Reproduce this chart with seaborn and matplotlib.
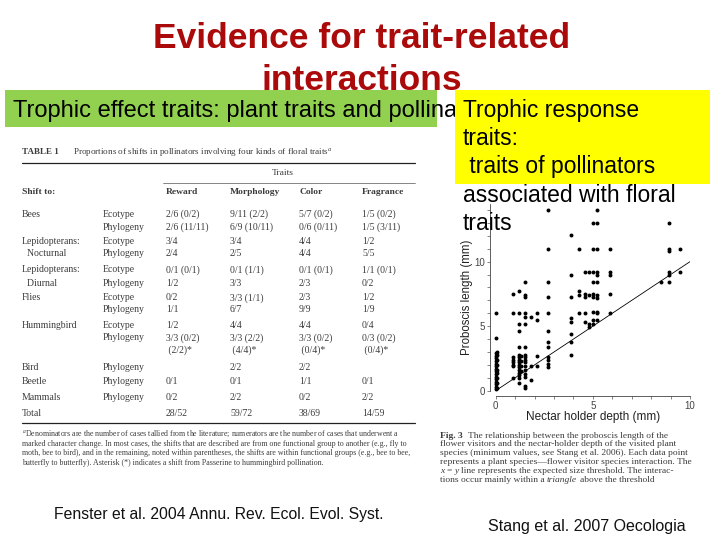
import pandas as pd
import seaborn as sns
import matplotlib.pyplot as plt
from matplotlib.patches import Rectangle
from matplotlib.lines import Line2D
from matplotlib.ticker import MultipleLocator

# --- slide texts ---
TITLE_LINES = ["Evidence for trait-related", "interactions"]
GREEN_TEXT = "Trophic effect traits: plant traits and pollinators"
YELLOW_LINES = ["Trophic response", "traits:", " traits of pollinators",
                "associated with floral", "traits"]
LEFT_CITE = "Fenster et al. 2004 Annu. Rev. Ecol. Evol. Syst."
RIGHT_CITE = "Stang et al. 2007 Oecologia"

# --- Table 1 (Fenster et al. 2004) ---
TRAIT_COLS = ["Reward", "Morphology", "Color", "Fragrance"]
ROW_GROUPS = ["Bees", "", "Lepidopterans:", "  Nocturnal", "Lepidopterans:", "  Diurnal",
              "Flies", "", "Hummingbird", "", "", "Bird", "Beetle", "Mammals", "Total"]
ROW_TYPES = ["Ecotype", "Phylogeny", "Ecotype", "Phylogeny", "Ecotype", "Phylogeny",
             "Ecotype", "Phylogeny", "Ecotype", "Phylogeny", "", "Phylogeny",
             "Phylogeny", "Phylogeny", ""]
REWARD = ["2/6 (0/2)", "2/6 (11/11)", "3/4", "2/4", "0/1 (0/1)", "1/2", "0/2", "1/1",
          "1/2", "3/3 (0/2)", " (2/2)*", "", "0/1", "0/2", "28/52"]
MORPHOLOGY = ["9/11 (2/2)", "6/9 (10/11)", "3/4", "2/5", "0/1 (1/1)", "3/3", "3/3 (1/1)",
              "6/7", "4/4", "3/3 (2/2)", " (4/4)*", "2/2", "0/1", "2/2", "59/72"]
COLOR = ["5/7 (0/2)", "0/6 (0/11)", "4/4", "4/4", "0/1 (0/1)", "2/3", "2/3", "9/9",
         "4/4", "3/3 (0/2)", " (0/4)*", "2/2", "1/1", "0/2", "38/69"]
FRAGRANCE = ["1/5 (0/2)", "1/5 (3/11)", "1/2", "5/5", "1/1 (0/1)", "0/2", "1/2", "1/9",
             "0/4", "0/3 (0/2)", " (0/4)*", "", "0/1", "2/2", "14/59"]
FOOTNOTE = [
    "$^a$Denominators are the number of cases tallied from the literature; numerators are the number of cases that underwent a",
    "marked character change. In most cases, the shifts that are described are from one functional group to another (e.g., fly to",
    "moth, bee to bird), and in the remaining, noted within parentheses, the shifts are within functional groups (e.g., bee to bee,",
    "butterfly to butterfly). Asterisk (*) indicates a shift from Passerine to hummingbird pollination.",
]

# --- Fig. 3 (Stang et al. 2007): proboscis length vs nectar holder depth ---
depth_levels = [0.0, 0.05, 0.9, 1.2, 1.3, 1.5, 1.8, 2.1, 2.7, 3.9,
                4.3, 4.6, 4.8, 5.0, 5.2, 5.9, 8.5, 8.9, 9.5]
proboscis_at_depth = [
    [0.1, 0.3, 0.5, 0.7, 0.9, 1.1, 1.3, 1.5, 1.7, 1.9, 2.1, 2.3, 2.5, 2.7, 2.9, 4.1, 6.0],
    [0.2, 0.6, 1.0, 1.4, 1.6, 2.0, 2.4, 2.8, 3.0],
    [7.5, 6.0, 2.6, 2.4, 2.2, 2.0, 1.9, 1.0],
    [7.7, 6.0, 5.2, 4.6, 3.4, 2.8, 2.6, 2.4, 2.2, 2.0, 1.8, 1.6, 1.4, 1.2, 1.0, 0.6],
    [2.7, 2.3, 1.9, 1.5],
    [8.4, 7.4, 7.3, 6.0, 5.7, 5.2, 3.4, 2.8, 2.6, 2.4, 2.2, 1.9, 1.6, 1.3, 1.1, 0.4, 0.2],
    [5.7, 1.9, 0.8],
    [6.0, 5.5, 2.7, 1.9],
    [14.0, 11.0, 8.4, 7.3, 6.0, 4.6, 3.8, 3.4, 2.6, 2.4, 2.1, 1.8],
    [12.1, 9.0, 7.3, 5.6, 5.3, 4.4, 3.8, 2.8],
    [11.0, 7.7, 7.4, 6.0],
    [9.2, 7.5, 7.3, 6.0, 5.3],
    [9.2, 7.4, 5.2, 4.9],
    [13.0, 11.0, 9.2, 8.4, 7.5, 7.3, 6.1, 5.5, 5.2],
    [14.0, 13.0, 11.0, 9.2, 9.0, 8.4, 7.4, 7.2, 6.1, 6.0, 5.5],
    [11.0, 9.2, 9.0, 7.5, 6.0],
    [8.4],
    [13.0, 11.0, 10.8, 9.2, 9.0, 8.4],
    [11.0, 9.2],
]
threshold_x = [0, 10]   # x = y size threshold

# caption lines as (text, style) pieces
CAPTION = [
    [("Fig. 3", "bold"), ("The relationship between the proboscis length of the", "normal")],
    [("flower visitors and the nectar-holder depth of the visited plant", "normal")],
    [("species (minimum values, see Stang et al. 2006). Each data point", "normal")],
    [("represents a plant species\u2014flower visitor species interaction. The", "normal")],
    [("x", "italic"), ("=", "normal"), ("y", "italic"),
     ("line represents the expected size threshold. The interac-", "normal")],
    [("tions occur mainly within a", "normal"), ("triangle", "italic"),
     ("above the threshold", "normal")],
]

W, H = 720, 540


def fx(px):
    return px / W


def fy(py):
    return 1 - py / H


sns.set_style("ticks")
plt.rcParams["font.family"] = ["Liberation Sans", "DejaVu Sans"]
plt.rcParams["mathtext.fontset"] = "custom"
plt.rcParams["mathtext.rm"] = "Liberation Serif"
plt.rcParams["mathtext.it"] = "Liberation Serif:italic"
plt.rcParams["mathtext.bf"] = "Liberation Serif:bold"

fig = plt.figure(figsize=(7.2, 5.4), dpi=100)
fig.patch.set_facecolor("white")
renderer = fig.canvas.get_renderer()

# title
for i, line in enumerate(TITLE_LINES):
    fig.text(fx(362), fy(48 + 41.5 * i), line, ha="center", va="baseline",
             fontsize=25.5, fontweight="bold", color="#AA0A0A", zorder=1)

# green and yellow boxes
fig.add_artist(Rectangle((fx(5), fy(127)), fx(437) - fx(5), fy(90) - fy(127),
                         transform=fig.transFigure, facecolor="#92D050",
                         edgecolor="none", zorder=2))
green_clip = Rectangle((0, fy(130)), fx(455), fy(88) - fy(130),
                       transform=fig.transFigure, facecolor="none", edgecolor="none")
gt = fig.text(fx(13), fy(116.5), GREEN_TEXT, ha="left", va="baseline", fontsize=17,
              color="black", zorder=4)
gt.set_clip_path(green_clip)
fig.add_artist(Rectangle((fx(455), fy(184)), fx(710) - fx(455), fy(90.5) - fy(184),
                         transform=fig.transFigure, facecolor="#FFFF00",
                         edgecolor="none", zorder=5))
for i, line in enumerate(YELLOW_LINES):
    fig.text(fx(463), fy(116.5 + 28.4 * i), line, ha="left", va="baseline",
             fontsize=16.5, color="black", zorder=6)

# table
serif = "Liberation Serif"
tcol = "#3c3c3c"
fig.text(fx(22), fy(152.5), "TABLE 1", fontsize=6.5, fontweight="bold", family=serif,
         color=tcol, va="center")
fig.text(fx(73), fy(152.5), "Proportions of shifts in pollinators involving four kinds of floral traits$^a$",
         fontsize=6.6, family=serif, color=tcol, va="center")
fig.add_artist(Line2D([fx(22), fx(415)], [fy(163), fy(163)], transform=fig.transFigure,
                      color="#222222", lw=0.9))
fig.text(fx(283), fy(173), "Traits", fontsize=6.8, family=serif, color=tcol,
         ha="center", va="center")
fig.add_artist(Line2D([fx(163), fx(415)], [fy(183), fy(183)], transform=fig.transFigure,
                      color="#555555", lw=0.5))
col_x = [166, 230, 299, 362]
fig.text(fx(22), fy(192), "Shift to:", fontsize=6.8, fontweight="bold", family=serif,
         color=tcol, va="center")
for cx, name in zip(col_x, TRAIT_COLS):
    fig.text(fx(cx), fy(192), name, fontsize=6.8, fontweight="bold", family=serif,
             color=tcol, va="center")
row_y = [214, 227, 242, 254, 270, 283, 298, 310, 325, 338, 350, 367, 382, 398, 413]
for i, ry in enumerate(row_y):
    fig.text(fx(22), fy(ry), ROW_GROUPS[i], fontsize=7, family=serif, color=tcol, va="center")
    fig.text(fx(103), fy(ry), ROW_TYPES[i], fontsize=7, family=serif, color=tcol, va="center")
    for cx, col in zip(col_x, [REWARD, MORPHOLOGY, COLOR, FRAGRANCE]):
        fig.text(fx(cx), fy(ry), col[i], fontsize=7, family=serif, color=tcol, va="center")
fig.add_artist(Line2D([fx(22), fx(415)], [fy(423), fy(423)], transform=fig.transFigure,
                      color="#222222", lw=0.9))
for i, line in enumerate(FOOTNOTE):
    fig.text(fx(22), fy(434 + 9.7 * i), line, fontsize=5.7, family=serif, color=tcol,
             va="center")

# scatter plot
df = pd.DataFrame({
    "depth": [d for d, ys in zip(depth_levels, proboscis_at_depth) for _ in ys],
    "proboscis": [y for ys in proboscis_at_depth for y in ys],
})
ax = fig.add_axes([fx(495.7), fy(390.7), fx(690) - fx(495.7), fy(203.6) - fy(390.7)])
ax.set_facecolor("none")
sns.scatterplot(data=df, x="depth", y="proboscis", color="black", s=8, linewidth=0,
                clip_on=False, ax=ax)
sns.lineplot(x=threshold_x, y=threshold_x, color="black", lw=0.6, ax=ax)
ax.set_xlim(0, 10)
ax.set_ylim(0, 14.5)
ax.set_xticks([0, 5, 10])
ax.set_yticks([0, 5, 10])
ax.xaxis.set_minor_locator(MultipleLocator(1))
ax.yaxis.set_minor_locator(MultipleLocator(1))
ax.tick_params(which="both", direction="out", length=2.5, width=0.5, color="#555555",
               labelsize=7, labelcolor="#444444", pad=1)
sns.despine(ax=ax, offset=4)
for s in ["left", "bottom"]:
    ax.spines[s].set_linewidth(0.6)
    ax.spines[s].set_color("#444444")
ax.set_xlabel("Nectar holder depth (mm)", fontsize=8.5, color="#222222", labelpad=0)
ax.set_ylabel("Proboscis length (mm)", fontsize=8.3, color="#222222", labelpad=1)

# caption: each line built from styled pieces, one space apart
cap_size = 6.8
probe = fig.text(0, 0, "x x", fontsize=cap_size, family=serif)
w2 = probe.get_window_extent(renderer).width
probe.set_text("xx")
space_px = w2 - probe.get_window_extent(renderer).width
probe.remove()
for i, pieces in enumerate(CAPTION):
    x_px = 440
    for j, (txt, style) in enumerate(pieces):
        t = fig.text(fx(x_px), fy(437.5 + 8.8 * i), txt, fontsize=cap_size, family=serif,
                     color=tcol, va="baseline", ha="left",
                     fontweight="bold" if style == "bold" else "normal",
                     fontstyle="italic" if style == "italic" else "normal")
        x_px += t.get_window_extent(renderer).width + space_px * (2 if style == "bold" else 1)

# citations
fig.text(fx(219), fy(514), LEFT_CITE, fontsize=11.3, ha="center", va="center", color="#111111")
fig.text(fx(587), fy(526), RIGHT_CITE, fontsize=11.5, ha="center", va="center", color="#111111")

fig.savefig("out.png", dpi=100)
